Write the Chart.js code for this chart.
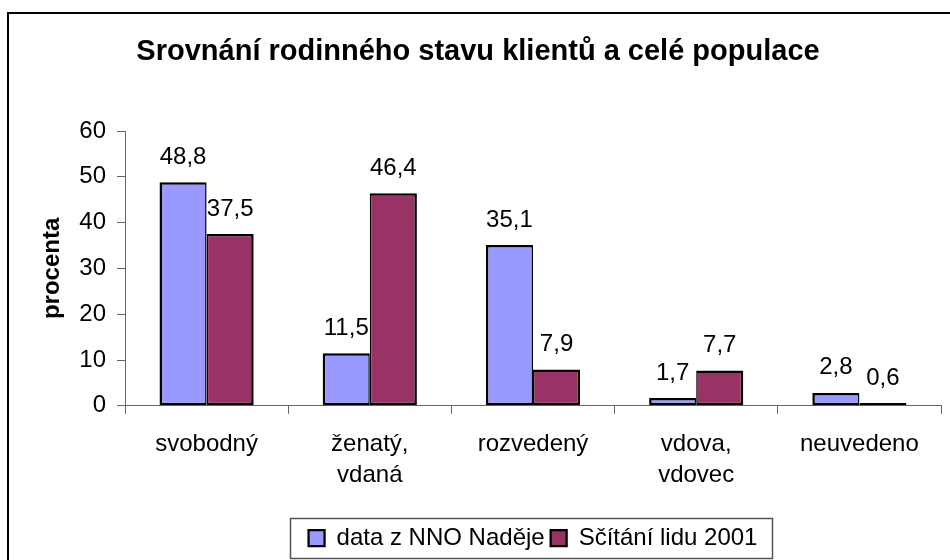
<!DOCTYPE html>
<html>
<head>
<meta charset="utf-8">
<script src="https://cdn.jsdelivr.net/npm/chart.js@4/dist/chart.umd.min.js"></script>
<style>
  html, body { margin: 0; padding: 0; background: #fff; }
  #wrap { width: 950px; height: 560px; position: relative; }
</style>
</head>
<body>
<div id="wrap"><canvas id="c" width="950" height="560"></canvas></div>
<script>
const chartTitle = 'Srovnání rodinného stavu klientů a celé populace';
const yAxisTitle = 'procenta';
const categories = [['svobodný'], ['ženatý,', 'vdaná'], ['rozvedený'], ['vdova,', 'vdovec'], ['neuvedeno']];
const seriesNames = ['data z NNO Naděje', 'Sčítání lidu 2001'];
const valuesNNO = [48.8, 11.5, 35.1, 1.7, 2.8];
const valuesCensus = [37.5, 46.4, 7.9, 7.7, 0.6];
const yMin = 0, yMax = 60, yStep = 10;

const FONT = "'Liberation Sans', Arial, sans-serif";
const AXIS = '#666666';

const framePlugin = {
  id: 'frame',
  afterLayout(chart) {
    const ca = chart.chartArea;
    const lg = chart.legend;
    if (lg) {
      const shift = (ca.left + ca.right) / 2 - (lg.left + lg.right) / 2;
      lg.left += shift; lg.right += shift;
    }
    const tb = chart.titleBlock;
    if (tb) {
      const shift = 478 - (tb.left + tb.right) / 2;
      tb.left += shift; tb.right += shift;
    }
  },
  beforeDraw(chart) {
    const ctx = chart.ctx;
    ctx.save();
    ctx.fillStyle = '#fff';
    ctx.fillRect(0, 0, chart.width, chart.height);
    ctx.restore();
  },
  afterDraw(chart) {
    const ctx = chart.ctx;
    ctx.save();
    ctx.strokeStyle = '#000';
    ctx.lineWidth = 2;
    ctx.strokeRect(8, 13, 1000, 1000);
    const hb = chart.legend && chart.legend.legendHitBoxes;
    if (hb && hb.length) {
      const first = hb[0], last = hb[hb.length - 1];
      const cy = first.top + first.height / 2;
      const l = first.left - 19;
      const r = last.left + last.width + 14;
      ctx.strokeStyle = '#555';
      ctx.lineWidth = 1.5;
      ctx.strokeRect(Math.round(l) + 0.5, Math.round(cy - 20) + 0.5, Math.round(r - l), 40);
    }
    ctx.restore();
  }
};

const valueLabels = {
  id: 'valueLabels',
  afterDatasetsDraw(chart) {
    const ctx = chart.ctx;
    ctx.save();
    ctx.font = '24px ' + FONT;
    ctx.fillStyle = '#000';
    ctx.textAlign = 'center';
    ctx.textBaseline = 'alphabetic';
    chart.data.datasets.forEach((ds, di) => {
      const meta = chart.getDatasetMeta(di);
      meta.data.forEach((el, i) => {
        const txt = ds.data[i].toFixed(1).replace('.', ',');
        ctx.fillText(txt, el.x, el.y - 18.5);
      });
    });
    ctx.restore();
  }
};

new Chart(document.getElementById('c'), {
  type: 'bar',
  data: {
    labels: categories,
    datasets: [
      {
        label: seriesNames[0],
        data: valuesNNO,
        backgroundColor: '#9999FF',
        borderColor: '#000',
        borderWidth: { top: 2.5, left: 2.5, right: 1.5, bottom: 2.5 },
        borderSkipped: false
      },
      {
        label: seriesNames[1],
        data: valuesCensus,
        backgroundColor: '#993366',
        borderColor: '#000',
        borderWidth: { top: 2.5, left: 1.5, right: 2.5, bottom: 2.5 },
        borderSkipped: false
      }
    ]
  },
  options: {
    responsive: false,
    animation: false,
    devicePixelRatio: 1,
    layout: { padding: { left: 0, right: 9, top: 0, bottom: 0 } },
    datasets: { bar: { barPercentage: 1.0, categoryPercentage: 0.577 } },
    plugins: {
      tooltip: { enabled: false },
      title: {
        display: true,
        text: chartTitle,
        color: '#000',
        font: { family: FONT, size: 29, weight: 'bold', lineHeight: 1.2 },
        padding: { top: 34.6, bottom: 61.6 }
      },
      legend: {
        display: true,
        position: 'bottom',
        labels: {
          color: '#000',
          font: { family: FONT, size: 24 },
          boxWidth: 16,
          boxHeight: 16,
          padding: 6
        }
      }
    },
    scales: {
      x: {
        grid: { display: true, drawOnChartArea: false, drawTicks: true, tickLength: 8, color: AXIS, offset: true, lineWidth: 1 },
        border: { display: true, color: AXIS, width: 1 },
        ticks: {
          color: '#000',
          font: { family: FONT, size: 24, lineHeight: 1.28 },
          padding: 15,
          maxRotation: 0,
          autoSkip: false
        },
        afterFit(scale) { scale.height = 114.2; }
      },
      y: {
        min: yMin,
        max: yMax,
        grid: { display: true, drawOnChartArea: false, drawTicks: true, tickLength: 8, color: AXIS, lineWidth: 1 },
        border: { display: true, color: AXIS, width: 1 },
        ticks: {
          stepSize: yStep,
          color: '#000',
          font: { family: FONT, size: 24 },
          padding: 11
        },
        title: {
          display: true,
          text: yAxisTitle,
          color: '#000',
          font: { family: FONT, size: 24, weight: 'bold', lineHeight: 1.2 },
          padding: { top: 37.6, bottom: 0 }
        },
        afterFit(scale) { scale.width = 125; }
      }
    }
  },
  plugins: [framePlugin, valueLabels]
});
</script>
</body>
</html>
